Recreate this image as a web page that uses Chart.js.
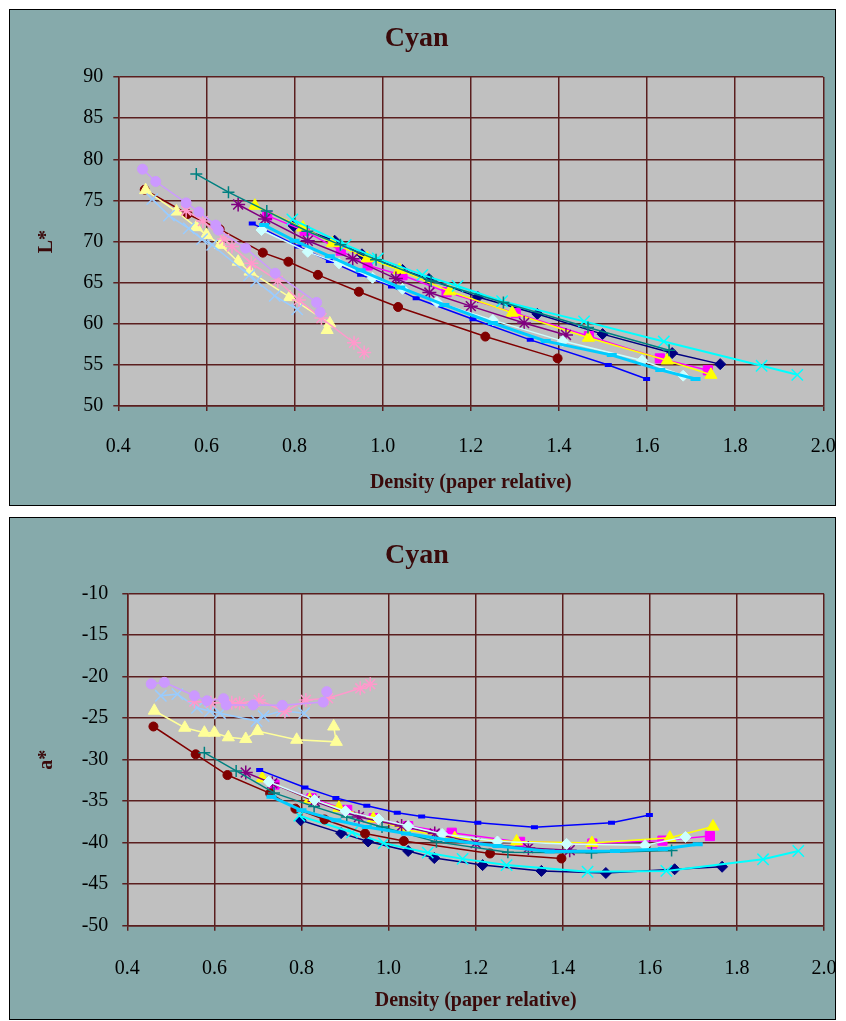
<!DOCTYPE html>
<html>
<head>
<meta charset="utf-8">
<title>Cyan - L* and a* vs density</title>
<script src="https://cdn.jsdelivr.net/npm/chart.js@4.4.1/dist/chart.umd.min.js"></script>
<style>
  body { margin: 0; background: #ffffff; overflow: hidden; }
  .box {
    position: absolute;
    left: 9px;
    width: 827px;
    border: 1px solid #000000;
    background: #86aaab;
    box-sizing: border-box;
  }
  .box canvas { position: absolute; left: 0; top: 0; }
</style>
</head>
<body>
<div class="box" style="top:9px;height:497px"><canvas id="lChart" width="835" height="495"></canvas></div>
<div class="box" style="top:517px;height:503px"><canvas id="aChart" width="835" height="501"></canvas></div>

<script>
// density (paper relative) per series, shared by both charts
const navyX = [0.798, 0.891, 0.953, 1.045, 1.105, 1.216, 1.351, 1.499, 1.657, 1.766];
const navyL = [71.9, 70.1, 68.45, 66.55, 65.45, 63.25, 61.2, 58.75, 56.45, 55.1];
const navyA = [-37.3, -38.85, -39.85, -41.0, -41.85, -42.7, -43.4, -43.65, -43.2, -42.9];

const magentaX = [0.738, 0.823, 0.905, 0.966, 1.045, 1.145, 1.302, 1.468, 1.629, 1.738];
const magentaL = [73.15, 71.3, 68.9, 67.1, 65.9, 63.85, 61.3, 58.5, 55.8, 54.35];
const magentaA = [-33.0, -34.65, -36.05, -37.05, -38.0, -38.8, -39.9, -40.1, -39.75, -39.2];

const yellowX = [0.71, 0.819, 0.886, 0.965, 1.038, 1.152, 1.294, 1.467, 1.646, 1.745];
const yellowL = [74.35, 71.7, 69.8, 67.95, 66.55, 63.95, 61.35, 58.3, 55.55, 53.8];
const yellowA = [-32.25, -34.8, -35.8, -37.1, -38.4, -39.45, -39.85, -40.05, -39.4, -38.05];

const cyanX = [0.795, 0.916, 0.989, 1.09, 1.17, 1.271, 1.457, 1.638, 1.86, 1.941];
const cyanL = [72.7, 69.6, 67.95, 65.95, 64.6, 62.75, 60.3, 57.85, 54.9, 53.8];
const cyanA = [-36.75, -38.75, -40.05, -41.2, -41.95, -42.7, -43.5, -43.4, -42.0, -41.0];

const purpleX = [0.672, 0.733, 0.83, 0.932, 1.03, 1.106, 1.2, 1.321, 1.416];
const purpleL = [74.5, 72.75, 70.1, 67.9, 65.5, 63.8, 62.15, 60.1, 58.65];
const purpleA = [-31.55, -32.85, -35.0, -36.9, -38.0, -38.9, -40.05, -40.65, -40.9];

const maroonX = [0.46, 0.557, 0.63, 0.728, 0.786, 0.853, 0.946, 1.035, 1.233, 1.397];
const maroonL = [76.3, 73.35, 71.5, 68.65, 67.55, 65.95, 63.9, 62.05, 58.45, 55.8];
const maroonA = [-26.0, -29.35, -31.85, -34.05, -35.9, -37.2, -38.9, -39.8, -41.3, -41.9];

const tealX = [0.577, 0.65, 0.737, 0.829, 0.904, 0.985, 1.11, 1.274, 1.466, 1.65];
const tealL = [78.2, 76.0, 73.7, 71.25, 69.6, 67.8, 65.2, 62.6, 59.55, 56.8];
const tealA = [-29.15, -31.35, -34.0, -35.65, -36.9, -38.1, -39.9, -41.15, -41.2, -40.95];

const blueX = [0.704, 0.808, 0.879, 0.95, 1.02, 1.076, 1.205, 1.335, 1.512, 1.599];
const blueL = [72.2, 69.4, 67.65, 65.95, 64.55, 63.1, 60.55, 58.05, 55.0, 53.3];
const blueA = [-31.25, -33.35, -34.6, -35.55, -36.4, -36.85, -37.6, -38.15, -37.6, -36.65];

const lightCyanX = [0.725, 0.83, 0.901, 0.977, 1.045, 1.123, 1.25, 1.409, 1.589, 1.682];
const lightCyanL = [71.4, 68.75, 67.35, 65.6, 64.25, 62.65, 60.45, 57.9, 55.55, 53.7];
const lightCyanA = [-32.65, -34.85, -36.2, -37.15, -38.0, -38.95, -39.85, -40.15, -40.3, -39.3];

const skyBlueX = [0.731, 0.8, 0.88, 0.95, 1.04, 1.14, 1.25, 1.37, 1.52, 1.63, 1.71];
const skyBlueL = [72.0, 70.1, 68.2, 66.5, 64.4, 62.3, 60.1, 57.9, 56.2, 54.4, 53.3];
const skyBlueA = [-34.45, -36.1, -37.3, -38.1, -38.9, -39.7, -40.4, -41.05, -41.0, -40.75, -40.2];

const lightYellowX = [0.462, 0.532, 0.577, 0.6, 0.632, 0.672, 0.699, 0.789, 0.88, 0.874];
const lightYellowL = [76.25, 73.65, 71.75, 70.8, 69.6, 67.55, 66.35, 63.25, 60.05, 59.25];
const lightYellowA = [-24.1, -26.15, -26.75, -26.75, -27.3, -27.5, -26.55, -27.6, -27.85, -26.0];

const lightBlueX = [0.477, 0.515, 0.56, 0.59, 0.613, 0.697, 0.713, 0.755, 0.806];
const lightBlueL = [75.15, 73.15, 71.6, 70.3, 69.6, 65.9, 65.2, 63.4, 61.75];
const lightBlueA = [-22.3, -22.1, -23.75, -24.15, -24.4, -25.35, -24.75, -24.1, -24.4];

const pinkX = [0.554, 0.592, 0.64, 0.658, 0.702, 0.762, 0.81, 0.861, 0.935, 0.958];
const pinkL = [73.75, 72.5, 70.3, 69.4, 67.35, 65.25, 62.9, 60.7, 57.7, 56.5];
const pinkA = [-23.0, -23.15, -23.15, -23.2, -22.8, -24.2, -22.8, -22.6, -21.4, -20.9];

const lavenderX = [0.455, 0.485, 0.554, 0.583, 0.621, 0.627, 0.689, 0.756, 0.85, 0.858];
const lavenderL = [78.8, 77.3, 74.7, 73.6, 72.0, 71.4, 69.2, 66.15, 62.6, 61.4];
const lavenderA = [-20.87, -20.68, -22.3, -22.9, -22.65, -23.4, -23.4, -23.45, -23.06, -21.8];

// axis ticks
const densityTicks = [0.4, 0.6, 0.8, 1.0, 1.2, 1.4, 1.6, 1.8, 2.0];
const lTicks = [50, 55, 60, 65, 70, 75, 80, 85, 90];
const aTicks = [-50, -45, -40, -35, -30, -25, -20, -15, -10];

// Excel style series look (same order as the workbook)
const seriesList = [
  { x: navyX, L: navyL, a: navyA, color: "#000080", point: "rectRot", r: 5.5 },
  { x: magentaX, L: magentaL, a: magentaA, color: "#ff00ff", point: "rect", r: 6.5 },
  { x: yellowX, L: yellowL, a: yellowA, color: "#ffff00", point: "triangle", r: 7 },
  { x: cyanX, L: cyanL, a: cyanA, color: "#00ffff", point: "crossRot", r: 8, pw: 1.5, lw: 2 },
  { x: purpleX, L: purpleL, a: purpleA, color: "#800080", point: "star", r: 7, pw: 1.5 },
  { x: maroonX, L: maroonL, a: maroonA, color: "#800000", point: "circle", r: 4.5 },
  { x: tealX, L: tealL, a: tealA, color: "#008080", point: "cross", r: 6, pw: 1.5 },
  { x: blueX, L: blueL, a: blueA, color: "#0000ff", point: "line", r: 3.5, pw: 4 },
  { x: lightCyanX, L: lightCyanL, a: lightCyanA, color: "#ccffff", point: "rectRot", r: 5.5 },
  { x: skyBlueX, L: skyBlueL, a: skyBlueA, color: "#00ccff", point: "line", r: 5, pw: 4, lw: 3 },
  { x: lightYellowX, L: lightYellowL, a: lightYellowA, color: "#ffff99", point: "triangle", r: 7 },
  { x: lightBlueX, L: lightBlueL, a: lightBlueA, color: "#99ccff", point: "crossRot", r: 8, pw: 1.5 },
  { x: pinkX, L: pinkL, a: pinkA, color: "#ff99cc", point: "star", r: 7, pw: 1.5 },
  { x: lavenderX, L: lavenderL, a: lavenderA, color: "#cc99ff", point: "circle", r: 5 },
];

const serif = "'Liberation Serif', 'Times New Roman', serif";
const gridColor = "#5a1e1e";
const titleColor = "#3a0a0a";

function makeDatasets(key) {
  return seriesList.map((s, i) => ({
    label: "Series " + (i + 1),
    data: s.x.map((x, j) => ({ x: x, y: s[key][j] })),
    showLine: true,
    borderColor: s.color,
    borderWidth: s.lw || 1.5,
    pointStyle: s.point,
    pointRadius: s.r,
    pointBackgroundColor: s.color,
    pointBorderColor: s.color,
    pointBorderWidth: s.pw || 1,
    order: -i, // later series on top, like Excel
  }));
}

function makeChart(id, key, yTicks, yTitle, lay) {
  const ctx = document.getElementById(id).getContext("2d");
  return new Chart(ctx, {
    type: "scatter",
    data: { datasets: makeDatasets(key) },
    plugins: [{
      id: "plotBg",
      beforeDraw(chart) {
        const a = chart.chartArea;
        chart.ctx.save();
        chart.ctx.fillStyle = "#c0c0c0";
        chart.ctx.fillRect(a.left, a.top, a.right - a.left, a.bottom - a.top);
        chart.ctx.restore();
      },
    }],
    options: {
      responsive: false,
      animation: false,
      layout: { padding: { left: 0, right: lay.right, top: 0, bottom: 0 } },
      plugins: {
        legend: { display: false },
        tooltip: { enabled: false },
        title: {
          display: true,
          text: "Cyan",
          color: titleColor,
          font: { family: serif, size: 28, weight: "bold", lineHeight: 1.2 },
          padding: { top: lay.titleTop, bottom: lay.titleBottom },
        },
      },
      scales: {
        x: {
          type: "linear",
          min: densityTicks[0],
          max: densityTicks[densityTicks.length - 1],
          afterBuildTicks: (scale) => { scale.ticks = densityTicks.map((v) => ({ value: v })); },
          afterFit: (scale) => {
            scale.height = lay.xHeight;
            // keep the plot edges where they are, labels may hang over
            scale.paddingLeft = 0;
            scale.paddingRight = 0;
          },
          ticks: {
            color: "#000000",
            font: { family: serif, size: 20 },
            padding: lay.xTickPad,
            callback: (v) => Number(v).toFixed(1),
          },
          grid: { color: gridColor, lineWidth: 1.5, tickLength: 5 },
          border: { color: gridColor, width: 1.5 },
          title: {
            display: true,
            text: "Density (paper relative)",
            color: titleColor,
            font: { family: serif, size: 20, weight: "bold", lineHeight: 1.2 },
            padding: { top: 0, bottom: lay.xTitlePad },
          },
        },
        y: {
          type: "linear",
          min: yTicks[0],
          max: yTicks[yTicks.length - 1],
          afterBuildTicks: (scale) => { scale.ticks = yTicks.map((v) => ({ value: v })); },
          afterFit: (scale) => {
            scale.width = lay.yWidth;
            scale.paddingTop = 0;
            scale.paddingBottom = 0;
          },
          ticks: {
            color: "#000000",
            font: { family: serif, size: 20 },
            padding: lay.yTickPad,
          },
          grid: { color: gridColor, lineWidth: 1.5, tickLength: 5 },
          border: { color: gridColor, width: 1.5 },
          title: {
            display: true,
            text: yTitle,
            color: titleColor,
            font: { family: serif, size: 20, weight: "bold", lineHeight: 1.2 },
            padding: { top: lay.yTitlePad, bottom: 0 },
          },
        },
      },
    },
  });
}

makeChart("lChart", "L", lTicks, "L*", {
  right: 21.7, titleTop: 11.5, titleBottom: 21.9, xHeight: 98.9,
  xTickPad: 24, xTitlePad: 10, yWidth: 108.3, yTickPad: 10, yTitlePad: 25,
});

makeChart("aChart", "a", aTicks, "a*", {
  right: 21, titleTop: 20.5, titleBottom: 21.6, xHeight: 93.3,
  xTickPad: 26, xTitlePad: 6, yWidth: 117.3, yTickPad: 14, yTitlePad: 25,
});
</script>
</body>
</html>
